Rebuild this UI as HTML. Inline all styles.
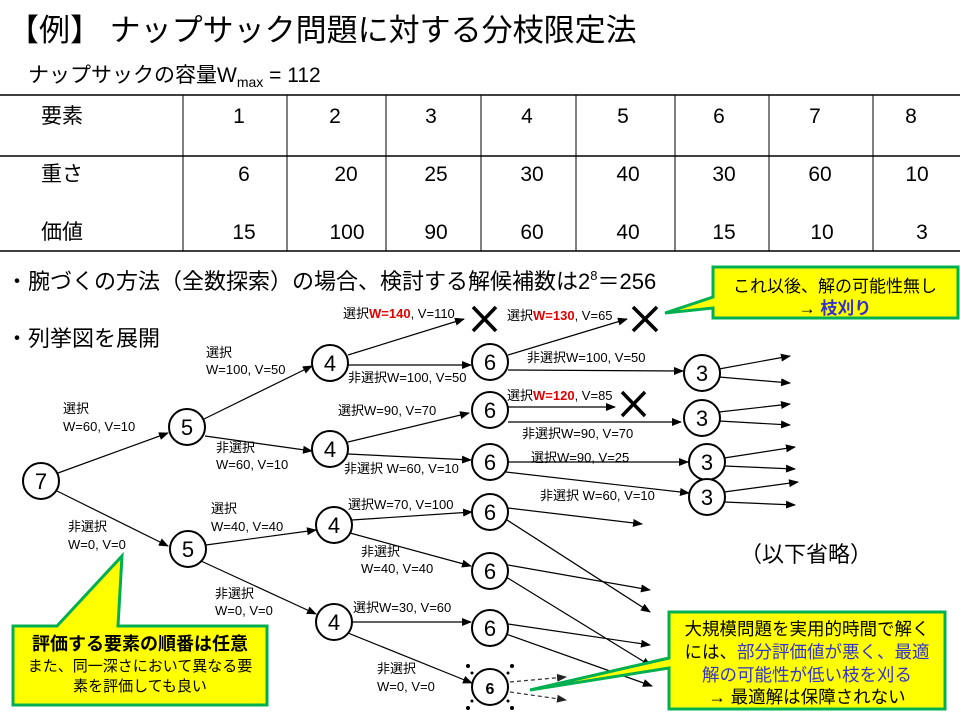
<!DOCTYPE html>
<html><head><meta charset="utf-8"><style>
body{margin:0;background:#fff;}
svg{display:block;font-family:"Liberation Sans","Noto Sans CJK JP",sans-serif;}
.l{font-size:13px;fill:#000;}
.r{fill:#e00000;font-weight:bold;}
</style></head><body>
<svg width="960" height="720" viewBox="0 0 960 720" xmlns="http://www.w3.org/2000/svg">
<defs>
<marker id="a" markerWidth="10" markerHeight="8" refX="9" refY="4" orient="auto" markerUnits="userSpaceOnUse"><path d="M0,0 L10,4 L0,8 z" fill="#000"/></marker>
<marker id="ag" markerWidth="10" markerHeight="8" refX="9" refY="4" orient="auto" markerUnits="userSpaceOnUse"><path d="M0,0 L10,4 L0,8 z" fill="#222"/></marker>
</defs>
<text x="8" y="41" font-size="31">【例】 ナップサック問題に対する分枝限定法</text>
<text x="28" y="82" font-size="21">ナップサックの容量W<tspan font-size="14" dy="5">max</tspan><tspan dy="-5"> = 112</tspan></text>
<!-- table -->
<g stroke="#000" stroke-width="1.5">
<line x1="0" y1="95" x2="960" y2="95"/>
<line x1="0" y1="156" x2="960" y2="156"/>
<line x1="0" y1="251" x2="960" y2="251"/>
</g>
<g stroke="#000" stroke-width="1">
<line x1="183" y1="95" x2="183" y2="251"/><line x1="287" y1="95" x2="287" y2="251"/>
<line x1="386" y1="95" x2="386" y2="251"/><line x1="481" y1="95" x2="481" y2="251"/>
<line x1="576" y1="95" x2="576" y2="251"/><line x1="675" y1="95" x2="675" y2="251"/>
<line x1="769" y1="95" x2="769" y2="251"/><line x1="873" y1="95" x2="873" y2="251"/>
</g>
<g font-size="21" text-anchor="middle">
<text x="62" y="123">要素</text><text x="62" y="181">重さ</text><text x="62" y="239">価値</text>
<text x="239" y="123">1</text><text x="335" y="123">2</text><text x="431" y="123">3</text><text x="527" y="123">4</text><text x="623" y="123">5</text><text x="719" y="123">6</text><text x="815" y="123">7</text><text x="911" y="123">8</text>
<text x="244" y="181">6</text><text x="346" y="181">20</text><text x="436" y="181">25</text><text x="532" y="181">30</text><text x="628" y="181">40</text><text x="724" y="181">30</text><text x="820" y="181">60</text><text x="917" y="181">10</text>
<text x="244" y="239">15</text><text x="347" y="239">100</text><text x="436" y="239">90</text><text x="532" y="239">60</text><text x="628" y="239">40</text><text x="724" y="239">15</text><text x="822" y="239">10</text><text x="922" y="239">3</text>
</g>
<text x="6" y="289" font-size="22">・腕づくの方法（全数探索）の場合、検討する解候補数は2<tspan font-size="13" dy="-9">8</tspan><tspan dy="9">＝256</tspan></text>
<text x="6" y="346" font-size="22">・列挙図を展開</text>

<!-- edges -->
<g stroke="#000" stroke-width="1.2" marker-end="url(#a)" fill="none">
<line x1="58" y1="473" x2="168" y2="433"/>
<line x1="57" y1="491" x2="168" y2="546"/>
<line x1="204" y1="419" x2="312" y2="366"/>
<line x1="205" y1="436" x2="312" y2="451"/>
<line x1="348" y1="355" x2="464" y2="319"/>
<line x1="348" y1="365" x2="471" y2="365"/>
<line x1="348" y1="442" x2="469" y2="413"/>
<line x1="348" y1="454" x2="471" y2="460"/>
<line x1="508" y1="355" x2="627" y2="319"/>
<line x1="508" y1="370" x2="683" y2="371"/>
<line x1="508" y1="407" x2="615" y2="407"/>
<line x1="508" y1="422" x2="681" y2="422"/>
<line x1="508" y1="462" x2="688" y2="462"/>
<line x1="506" y1="472" x2="689" y2="493"/>
<line x1="719" y1="369" x2="790" y2="356"/><line x1="719" y1="377" x2="790" y2="383"/>
<line x1="719" y1="412" x2="790" y2="404"/><line x1="719" y1="421" x2="790" y2="425"/>
<line x1="724" y1="458" x2="795" y2="447"/><line x1="724" y1="466" x2="795" y2="469"/>
<line x1="724" y1="492" x2="798" y2="482"/><line x1="724" y1="502" x2="795" y2="505"/>
<line x1="206" y1="545" x2="316" y2="530"/>
<line x1="201" y1="561" x2="316" y2="614"/>
<line x1="352" y1="520" x2="472" y2="512"/>
<line x1="350" y1="533" x2="471" y2="566"/>
<line x1="508" y1="508" x2="642" y2="524"/><line x1="507" y1="520" x2="650" y2="612"/>
<line x1="508" y1="565" x2="650" y2="590"/><line x1="506" y1="577" x2="651" y2="666"/>
<line x1="352" y1="622" x2="471" y2="622"/>
<line x1="348" y1="633" x2="472" y2="683"/>
<line x1="508" y1="624" x2="650" y2="645"/><line x1="506" y1="634" x2="652" y2="686"/>
</g>
<g stroke="#333" stroke-width="1.2" stroke-dasharray="4,3" marker-end="url(#ag)">
<line x1="510" y1="682" x2="566" y2="677"/><line x1="510" y1="692" x2="566" y2="700"/>
</g>

<!-- X marks -->
<g stroke="#000" stroke-width="3.5">
<line x1="473" y1="307" x2="496" y2="331"/><line x1="496" y1="307" x2="473" y2="331"/>
<line x1="633" y1="307" x2="657" y2="331"/><line x1="657" y1="307" x2="633" y2="331"/>
<line x1="622" y1="392" x2="645" y2="416"/><line x1="645" y1="392" x2="622" y2="416"/>
</g>

<!-- nodes -->
<g stroke="#000" stroke-width="2" fill="#fff">
<circle cx="41" cy="481" r="18"/>
<circle cx="187" cy="427" r="18"/><circle cx="188" cy="549" r="18"/>
<circle cx="330" cy="363" r="18"/><circle cx="330" cy="449" r="18"/>
<circle cx="334" cy="525" r="18"/><circle cx="334" cy="622" r="18"/>
<circle cx="490" cy="362" r="18"/><circle cx="490" cy="410" r="18"/><circle cx="490" cy="462" r="18"/>
<circle cx="490" cy="512" r="18"/><circle cx="490" cy="571" r="18"/><circle cx="490" cy="628" r="18"/>
<circle cx="490" cy="687" r="18"/>
<circle cx="702" cy="373" r="18"/><circle cx="702" cy="418" r="18"/>
<circle cx="707" cy="462" r="18"/><circle cx="707" cy="497" r="18"/>
</g>
<g font-size="22" text-anchor="middle">
<text x="41" y="489">7</text><text x="187" y="435">5</text><text x="188" y="557">5</text>
<text x="330" y="371">4</text><text x="330" y="457">4</text><text x="334" y="533">4</text><text x="334" y="630">4</text>
<text x="490" y="370">6</text><text x="490" y="418">6</text><text x="490" y="470">6</text>
<text x="490" y="520">6</text><text x="490" y="579">6</text><text x="490" y="636">6</text>
<text x="702" y="381">3</text><text x="702" y="426">3</text><text x="707" y="470">3</text><text x="707" y="505">3</text>
</g>
<text x="490" y="694" font-size="16" text-anchor="middle" font-weight="bold">6</text>
<g fill="#000">
<circle cx="468" cy="666" r="2"/><circle cx="512" cy="666" r="2"/><circle cx="468" cy="708" r="2"/><circle cx="512" cy="708" r="2"/>
<circle cx="472" cy="673" r="1.5"/><circle cx="508" cy="673" r="1.5"/><circle cx="472" cy="701" r="1.5"/><circle cx="508" cy="701" r="1.5"/>
</g>

<!-- labels -->
<g class="l">
<text x="206" y="357">選択</text><text x="206" y="374">W=100, V=50</text>
<text x="63" y="413">選択</text><text x="63" y="431">W=60, V=10</text>
<text x="216" y="452">非選択</text><text x="216" y="469">W=60, V=10</text>
<text x="343" y="318">選択<tspan class="r">W=140</tspan>, V=110</text>
<text x="348" y="382">非選択W=100, V=50</text>
<text x="338" y="415">選択W=90, V=70</text>
<text x="344" y="473">非選択 W=60, V=10</text>
<text x="348" y="509">選択W=70, V=100</text>
<text x="507" y="320">選択<tspan class="r">W=130</tspan>, V=65</text>
<text x="527" y="362">非選択W=100, V=50</text>
<text x="507" y="400">選択<tspan class="r">W=120</tspan>, V=85</text>
<text x="522" y="438">非選択W=90, V=70</text>
<text x="531" y="462">選択W=90, V=25</text>
<text x="540" y="500">非選択 W=60, V=10</text>
<text x="68" y="531">非選択</text><text x="68" y="549">W=0, V=0</text>
<text x="211" y="513">選択</text><text x="211" y="531">W=40, V=40</text>
<text x="361" y="556">非選択</text><text x="361" y="573">W=40, V=40</text>
<text x="215" y="598">非選択</text><text x="215" y="615">W=0, V=0</text>
<text x="353" y="612">選択W=30, V=60</text>
<text x="377" y="673">非選択</text><text x="377" y="691">W=0, V=0</text>
</g>
<text x="740" y="562" font-size="22">（以下省略）</text>

<!-- callout top-right -->
<path d="M713,267 H958 V318 H713 V308 L665,313 L713,297 Z" fill="#ffff00" stroke="#00b050" stroke-width="3"/>
<text x="835" y="292" font-size="17" text-anchor="middle">これ以後、解の可能性無し</text>
<text x="835" y="314" font-size="17" text-anchor="middle">→ <tspan fill="#3333cc" font-weight="bold">枝刈り</tspan></text>

<!-- callout bottom-left -->
<path d="M13,626 H57 L122,556 L118,626 H267 V705 H13 Z" fill="#ffff00" stroke="#00b050" stroke-width="3"/>
<text x="140" y="650" font-size="18" text-anchor="middle" font-weight="bold">評価する要素の順番は任意</text>
<text x="140" y="671" font-size="15" text-anchor="middle">また、同一深さにおいて異なる要</text>
<text x="140" y="691" font-size="15" text-anchor="middle">素を評価しても良い</text>

<!-- callout bottom-right -->
<path d="M669,612 H945 V709 H669 V668 L530,690 L669,658 Z" fill="#ffff00" stroke="#00b050" stroke-width="3"/>
<text x="807" y="635" font-size="17.5" text-anchor="middle">大規模問題を実用的時間で解く</text>
<text x="807" y="658" font-size="17.5" text-anchor="middle">には、<tspan fill="#3333cc">部分評価値が悪く、最適</tspan></text>
<text x="807" y="681" font-size="17.5" text-anchor="middle" fill="#3333cc">解の可能性が低い枝を刈る</text>
<text x="807" y="703" font-size="17.5" text-anchor="middle">→  最適解は保障されない</text>
</svg>
</body></html>
